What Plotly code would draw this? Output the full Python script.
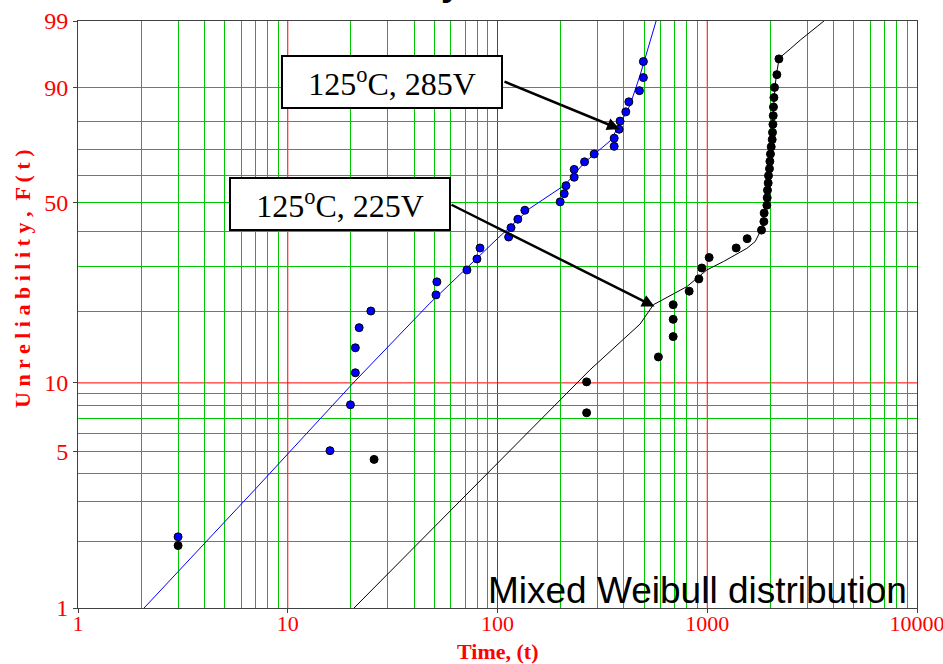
import numpy as np
import plotly.graph_objects as go

# ---------------- data ----------------
blue_t = [496, 496, 475, 423, 409, 384, 380, 360, 360, 289, 260, 232, 232, 212, 208, 199,
          135, 125, 116, 113, 82.5, 79.8, 71.5, 51.4, 50.9, 24.9, 21.9, 21.0, 21.0, 19.9, 15.9, 3.0]
blue_F = [95.1, 92.2, 89.2, 86.2, 83.2, 80.2, 77.4, 74.2, 71.2, 68.3, 65.3, 62.4, 59.4, 56.2, 53.2, 50.2,
          47.2, 44.1, 41.3, 38.3, 35.0, 31.9, 29.0, 26.1, 23.2, 20.0, 17.1, 14.1, 11.05, 8.04, 5.06, 2.09]

black_t = [2196, 2148, 2093, 2079, 2069, 2063, 2056, 2047, 2040, 2018, 2002, 1989, 1980, 1959, 1952,
           1937, 1931, 1924, 1868, 1862, 1814, 1550, 1374, 1021, 942, 912, 820, 688, 688, 688, 585,
           266, 266, 25.8, 3.0]
black_F = [95.5, 92.8, 90.0, 87.4, 84.7, 82.0, 79.1, 76.3, 73.7, 71.0, 68.3, 65.5, 62.7, 60.0, 57.2,
           54.5, 51.7, 49.0, 46.2, 43.3, 40.5, 37.8, 35.0, 32.3, 29.5, 26.8, 24.0, 21.2, 18.5, 15.7, 12.9,
           10.1, 7.42, 4.63, 1.91]

blue_fit_t = [2.065, 6.97, 20.5, 47.6, 98.4, 142.9, 209.9, 258.7, 298.4, 344.1, 384.1, 428.8, 478.6, 534.1, 570.5]
blue_fit_F = [1.0, 3.40, 9.98, 21.5, 37.4, 47.9, 56.5, 64.9, 69.1, 73.2, 79.2, 85.3, 92.7, 97.7, 99.0]

black_fit_t = [20.7, 276.3, 478.6, 553.7, 799, 995.6, 1195, 1545, 1692, 1755, 1822, 1868, 1910, 1942,
               1974, 2007, 2040, 2074, 2108, 2155, 2203, 2486, 2775, 3601]
black_fit_F = [1.0, 11.38, 17.7, 21.2, 25.0, 29.0, 31.2, 34.9, 36.9, 39.0, 41.1, 46.6, 52.7, 58.4,
               64.1, 69.8, 77.1, 85.3, 90.6, 93.7, 95.6, 96.8, 97.7, 99.0]

y_major = [1, 5, 10, 50, 90, 99]
y_green = [2, 3, 4, 5, 6, 7, 8, 9, 20, 30, 40, 50, 60, 70, 80, 90]
y_red = [10]
x_major = [1, 10, 100, 1000, 10000]
x_green = [m * d for d in (1, 10, 100, 1000) for m in range(2, 10)]
x_red = [10, 100, 1000]

label_285 = "125<sup>o</sup>C, 285V"
label_225 = "125<sup>o</sup>C, 225V"
note_text = "Mixed Weibull distribution"
y_title = "U n r e l i a b i l i t y ,  F ( t )"
x_title = "Time, (t)"
top_title = "Probability - Weibull"


def wb(F):
    """Weibull probability-paper transform of unreliability in percent."""
    F = np.asarray(F, dtype=float) / 100.0
    return np.log(-np.log(1.0 - F))


RED = "rgb(255,0,0)"
GREEN = "rgb(0,200,0)"
SERIF = "Liberation Serif"
SANS = "Liberation Sans"

X_LO, X_HI = x_major[0], x_major[-1]
Y_LO, Y_HI = float(wb(y_major[0])), float(wb(y_major[-1]))

fig = go.Figure()
fig.add_trace(go.Scatter(x=blue_fit_t, y=wb(blue_fit_F), mode="lines",
                         line=dict(color="rgb(0,0,255)", width=1), hoverinfo="skip"))
fig.add_trace(go.Scatter(x=black_fit_t, y=wb(black_fit_F), mode="lines",
                         line=dict(color="black", width=1), hoverinfo="skip"))
fig.add_trace(go.Scatter(x=blue_t, y=wb(blue_F), mode="markers",
                         marker=dict(symbol="circle", size=8, color="rgb(0,0,255)",
                                     line=dict(color="black", width=1))))
fig.add_trace(go.Scatter(x=black_t, y=wb(black_F), mode="markers",
                         marker=dict(symbol="circle", size=8, color="black",
                                     line=dict(color="black", width=1))))

# red decade gridlines (subplot shape layer: above the grid, below the data)
for v in y_red:
    fig.add_shape(type="line", xref="x", x0=X_LO, x1=X_HI, yref="y",
                  y0=float(wb(v)), y1=float(wb(v)), line=dict(color=RED, width=1), layer="below")
for v in x_red:
    fig.add_shape(type="line", yref="y", y0=Y_LO, y1=Y_HI, xref="x",
                  x0=v, x1=v, line=dict(color=RED, width=1), layer="below")

L, R, T, B = 78, 26, 21, 56
PW, PH = 943 - L - R, 664 - T - B


def px(xp):
    return (xp - L) / PW


def py(yp):
    return (664 - B - yp) / PH


ann = []
box = dict(showarrow=False, xref="paper", yref="paper", xanchor="left", yanchor="top",
           width=216, height=48, bgcolor="white", bordercolor="black", borderwidth=2, borderpad=1,
           font=dict(family=SERIF, size=32, color="black"))
ann.append(dict(text=label_285, x=px(281), y=py(55), **box))
ann.append(dict(text=label_225, x=px(229), y=py(177), **box))
arrow = dict(text="", showarrow=True, xref="paper", yref="paper", arrowhead=2, arrowsize=1,
             arrowwidth=2.5, arrowcolor="black", standoff=0)
ann.append(dict(x=px(619.5), y=py(129), ax=503 - 619.5, ay=81 - 129, **arrow))
ann.append(dict(x=px(654.5), y=py(306.5), ax=450 - 654.5, ay=204 - 306.5, **arrow))
ann.append(dict(text=note_text, showarrow=False, xref="paper", yref="paper", x=px(697.5), y=py(590.5),
                xanchor="center", yanchor="middle", font=dict(family=SANS, size=37, color="black")))
ann.append(dict(text="<b>" + top_title + "</b>", showarrow=False, xref="paper", yref="paper",
                x=px(273), y=py(4.5), xanchor="left", yanchor="bottom",
                font=dict(family=SANS, size=36, color="black")))
ann.append(dict(text="<b>" + y_title + "</b>", showarrow=False, xref="paper", yref="paper",
                x=px(22), y=py(279), xanchor="center", yanchor="middle", textangle=-90,
                font=dict(family=SERIF, size=22, color=RED)))
ann.append(dict(text="<b>" + x_title + "</b>", showarrow=False, xref="paper", yref="paper",
                x=0.5, y=py(651), xanchor="center", yanchor="middle",
                font=dict(family=SERIF, size=22, color=RED)))

axis_common = dict(showline=True, linecolor="#404040", linewidth=1, mirror=True,
                   ticks="outside", ticklen=4, tickcolor="#404040", automargin=False,
                   ticklabeloverflow="allow", showgrid=False, zeroline=False)

fig.update_layout(
    width=943, height=664,
    margin=dict(l=L, r=R, t=T, b=B, pad=0, autoexpand=False),
    paper_bgcolor="white", plot_bgcolor="white",
    showlegend=False,
    annotations=ann,
    xaxis=dict(type="log", range=[0, 4], tickmode="array", tickvals=x_major,
               ticktext=[str(v) for v in x_major], ticklabelstandoff=-8,
               tickfont=dict(family=SERIF, size=22, color=RED),
               minor=dict(tickmode="array", tickvals=x_green, showgrid=True, gridcolor=GREEN,
                          gridwidth=1, ticks=""),
               **axis_common),
    yaxis=dict(range=[Y_LO, Y_HI], tickmode="array",
               tickvals=[float(v) for v in wb(y_major)], ticktext=[str(v) for v in y_major],
               tickfont=dict(family=SERIF, size=24, color=RED),
               minor=dict(tickmode="array", tickvals=[float(v) for v in wb(y_green)], showgrid=True,
                          gridcolor=GREEN, gridwidth=1, ticks=""),
               **axis_common),
)

fig.write_html("out.html")
